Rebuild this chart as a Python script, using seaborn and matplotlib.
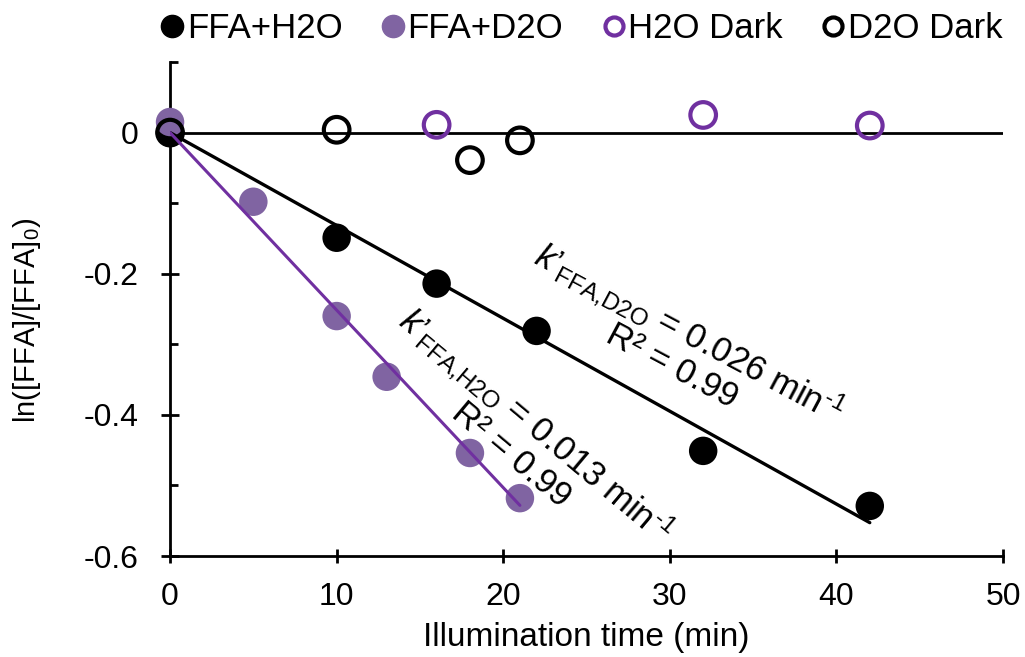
import numpy as np
import pandas as pd
import matplotlib
matplotlib.use("Agg")
import matplotlib.pyplot as plt
from matplotlib.ticker import FixedLocator, FixedFormatter
from matplotlib.lines import Line2D
import seaborn as sns

# ---- data ----
h2o_time = [0, 10, 16, 22, 32, 42]
h2o_lnratio = [0.0, -0.149, -0.214, -0.281, -0.451, -0.529]

d2o_time = [0, 5, 10, 13, 18, 21]
d2o_lnratio = [0.015, -0.098, -0.260, -0.346, -0.454, -0.518]

h2o_dark_time = [16, 32, 42]
h2o_dark_lnratio = [0.011, 0.025, 0.010]

d2o_dark_time = [0, 10, 18, 21]
d2o_dark_lnratio = [0.0, 0.004, -0.039, -0.011]

x_ticks = [0, 10, 20, 30, 40, 50]
y_ticks = [-0.6, -0.4, -0.2, 0.0]
y_tick_labels = ["-0.6", "-0.4", "-0.2", "0"]
y_minor_ticks = [-0.5, -0.3, -0.1, 0.1]

BLACK = "#000000"
PURPLE_FILL = "#8064A2"
PURPLE_DARK = "#7030A0"

sns.set_theme(style="white")
plt.rcParams["font.family"] = ["Liberation Sans", "DejaVu Sans"]
plt.rcParams["text.color"] = BLACK
plt.rcParams["mathtext.fontset"] = "custom"
plt.rcParams["mathtext.rm"] = "Liberation Sans"
plt.rcParams["mathtext.it"] = "Liberation Sans:italic"
plt.rcParams["mathtext.bf"] = "Liberation Sans:bold"

fig = plt.figure(figsize=(10.25, 6.57), dpi=100)
ax = fig.add_axes([0.1659, 0.1537, 0.8127, 0.7519])


def fit_through_origin(x, y):
    x = np.asarray(x, float)
    y = np.asarray(y, float)
    return np.sum(x * y) / np.sum(x * x)


k_h2o = fit_through_origin(h2o_time, h2o_lnratio)
k_d2o = fit_through_origin(d2o_time, d2o_lnratio)

df_h2o = pd.DataFrame({"t": h2o_time, "v": h2o_lnratio})
df_d2o = pd.DataFrame({"t": d2o_time, "v": d2o_lnratio})
df_h2o_dark = pd.DataFrame({"t": h2o_dark_time, "v": h2o_dark_lnratio})
df_d2o_dark = pd.DataFrame({"t": d2o_dark_time, "v": d2o_dark_lnratio})

# zero reference line
ax.axhline(0, color=BLACK, lw=2.0, zorder=1)

sns.scatterplot(data=df_h2o, x="t", y="v", ax=ax, s=420, color=BLACK,
                edgecolor="none", linewidth=0, clip_on=False, zorder=3)
sns.scatterplot(data=df_d2o, x="t", y="v", ax=ax, s=420, color=PURPLE_FILL,
                edgecolor="none", linewidth=0, clip_on=False, zorder=4)
sns.scatterplot(data=df_h2o_dark, x="t", y="v", ax=ax, s=340, facecolor="none",
                edgecolor=PURPLE_DARK, linewidth=3.0, clip_on=False, zorder=5)
sns.scatterplot(data=df_d2o_dark, x="t", y="v", ax=ax, s=340, facecolor="none",
                edgecolor=BLACK, linewidth=3.0, clip_on=False, zorder=5)

# linear fits through the origin
fit_h2o_t = np.array([0, max(h2o_time)], float)
fit_d2o_t = np.array([0, max(d2o_time)], float)
sns.lineplot(x=fit_h2o_t, y=k_h2o * fit_h2o_t, ax=ax, color=BLACK, lw=2.4,
             zorder=6)
sns.lineplot(x=fit_d2o_t, y=k_d2o * fit_d2o_t, ax=ax, color=PURPLE_DARK, lw=2.2,
             zorder=6)

ax.set_xlim(0, 50)
ax.set_ylim(-0.6, 0.1)

for side in ["top", "right"]:
    ax.spines[side].set_visible(False)
for side in ["left", "bottom"]:
    ax.spines[side].set_color(BLACK)
    ax.spines[side].set_linewidth(2.0)

ax.xaxis.set_major_locator(FixedLocator(x_ticks))
ax.yaxis.set_major_locator(FixedLocator(y_ticks))
ax.yaxis.set_major_formatter(FixedFormatter(y_tick_labels))
ax.yaxis.set_minor_locator(FixedLocator(y_minor_ticks))

ax.tick_params(axis="x", which="major", direction="inout", length=10, width=2,
               color=BLACK, labelsize=23, pad=14, labelcolor=BLACK, bottom=True)
ax.tick_params(axis="y", which="major", direction="inout", length=13, width=2,
               color=BLACK, labelsize=23, pad=16, labelcolor=BLACK, left=True)
ax.tick_params(axis="y", which="minor", direction="in", length=6, width=2,
               color=BLACK, left=True)

ax.set_xlabel("Illumination time (min)", fontsize=24, color=BLACK)
ax.xaxis.set_label_coords(0.5, -0.133)
ax.set_ylabel(r"ln([FFA]/[FFA]$_{0}$)", fontsize=21, color=BLACK)
ax.yaxis.set_label_coords(-0.152, 0.478)
ax.grid(False)

# fit annotations
ax.text(30.7, -0.305,
        "$\\mathit{k’}_{\\mathrm{FFA{,}D2O}}$ = 0.026 min$^{\\mathrm{‐1}}$\nR² = 0.99",
        rotation=-28, rotation_mode="anchor", ha="center", va="center",
        multialignment="center", fontsize=25, color=BLACK, linespacing=0.95)
ax.text(21.3, -0.434,
        "$\\mathit{k’}_{\\mathrm{FFA{,}H2O}}$ = 0.013 min$^{\\mathrm{‐1}}$\nR² = 0.99",
        rotation=-40, rotation_mode="anchor", ha="center", va="center",
        multialignment="center", fontsize=25, color=BLACK, linespacing=0.95)

handles = [
    Line2D([], [], ls="none", marker="o", markersize=16, markerfacecolor=BLACK,
           markeredgecolor=BLACK),
    Line2D([], [], ls="none", marker="o", markersize=16, markerfacecolor=PURPLE_FILL,
           markeredgecolor=PURPLE_FILL),
    Line2D([], [], ls="none", marker="o", markersize=13, markerfacecolor="none",
           markeredgecolor=PURPLE_DARK, markeredgewidth=3),
    Line2D([], [], ls="none", marker="o", markersize=13, markerfacecolor="none",
           markeredgecolor=BLACK, markeredgewidth=3),
]
labels = ["FFA+H2O", "FFA+D2O", "H2O Dark", "D2O Dark"]
fig.legend(handles, labels, loc="center", bbox_to_anchor=(0.568, 0.957), ncol=4,
           frameon=False, fontsize=25, handlelength=0.6, handletextpad=0.12,
           columnspacing=1.15, borderpad=0, borderaxespad=0,
           labelcolor=BLACK)

fig.savefig("out.png", dpi=100)
